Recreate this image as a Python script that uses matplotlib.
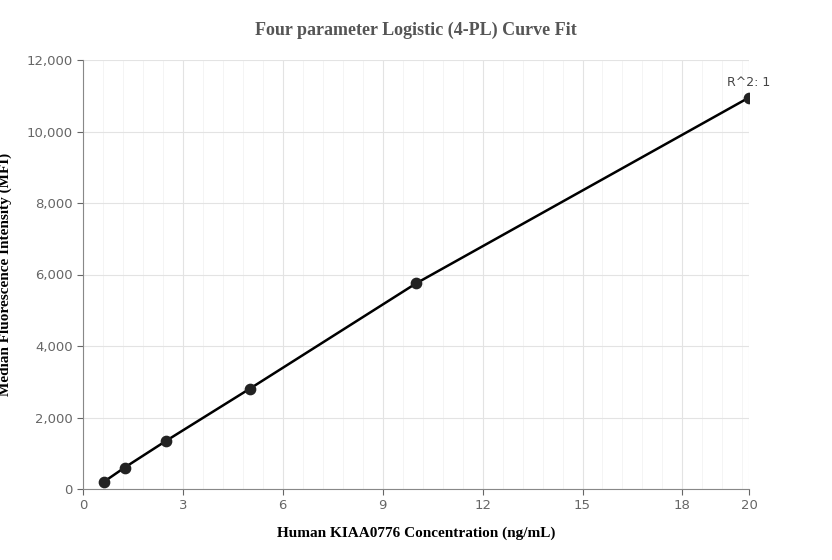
import matplotlib.pyplot as plt
from matplotlib.ticker import MultipleLocator, FuncFormatter

conc = [0.625, 1.25, 2.5, 5, 10, 20]
mfi = [200, 600, 1350, 2800, 5750, 10950]
x_ticks = [0, 3, 6, 9, 12, 15, 18, 20]
y_ticks = [0, 2000, 4000, 6000, 8000, 10000, 12000]

fig = plt.figure(figsize=(8.32, 5.6), dpi=100)
ax = fig.add_axes([83 / 832, 1 - 489 / 560, 666 / 832, 429 / 560])

ax.plot(conc, mfi, color='black', lw=1.8, zorder=3)
ax.scatter(conc, mfi, s=55, color='#222222', zorder=4)
ax.annotate('R^2: 1', (conc[-1], mfi[-1]), xytext=(0, 6), textcoords='offset points',
            ha='center', va='bottom', fontsize=9, color='#444444')

ax.set_xlim(0, 20)
ax.set_ylim(0, 12000)
ax.set_xticks(x_ticks)
ax.set_yticks(y_ticks)
ax.xaxis.set_minor_locator(MultipleLocator(0.6))
ax.yaxis.set_major_formatter(FuncFormatter(lambda v, p: f'{int(v):,}'))
ax.grid(True, which='major', color='#e3e3e3', lw=0.8)
ax.grid(True, which='minor', axis='x', color='#f2f2f2', lw=0.6)
ax.set_axisbelow(True)
for s in ['top', 'right']:
    ax.spines[s].set_visible(False)
for s in ['left', 'bottom']:
    ax.spines[s].set_color('#888888')
ax.tick_params(which='both', colors='#666666', labelsize=9.5, length=4)
ax.tick_params(which='minor', length=0)

ax.set_title('Four parameter Logistic (4-PL) Curve Fit', fontfamily='Liberation Serif',
             fontweight='bold', fontsize=13, color='#555555', pad=18)
ax.set_xlabel('Human KIAA0776 Concentration (ng/mL)', fontfamily='Liberation Serif',
              fontweight='bold', fontsize=11, labelpad=10)
ax.set_ylabel('Median Fluorescence Intensity (MFI)', fontfamily='Liberation Serif',
              fontweight='bold', fontsize=11, labelpad=10)

fig.savefig('out.png', dpi=100)
